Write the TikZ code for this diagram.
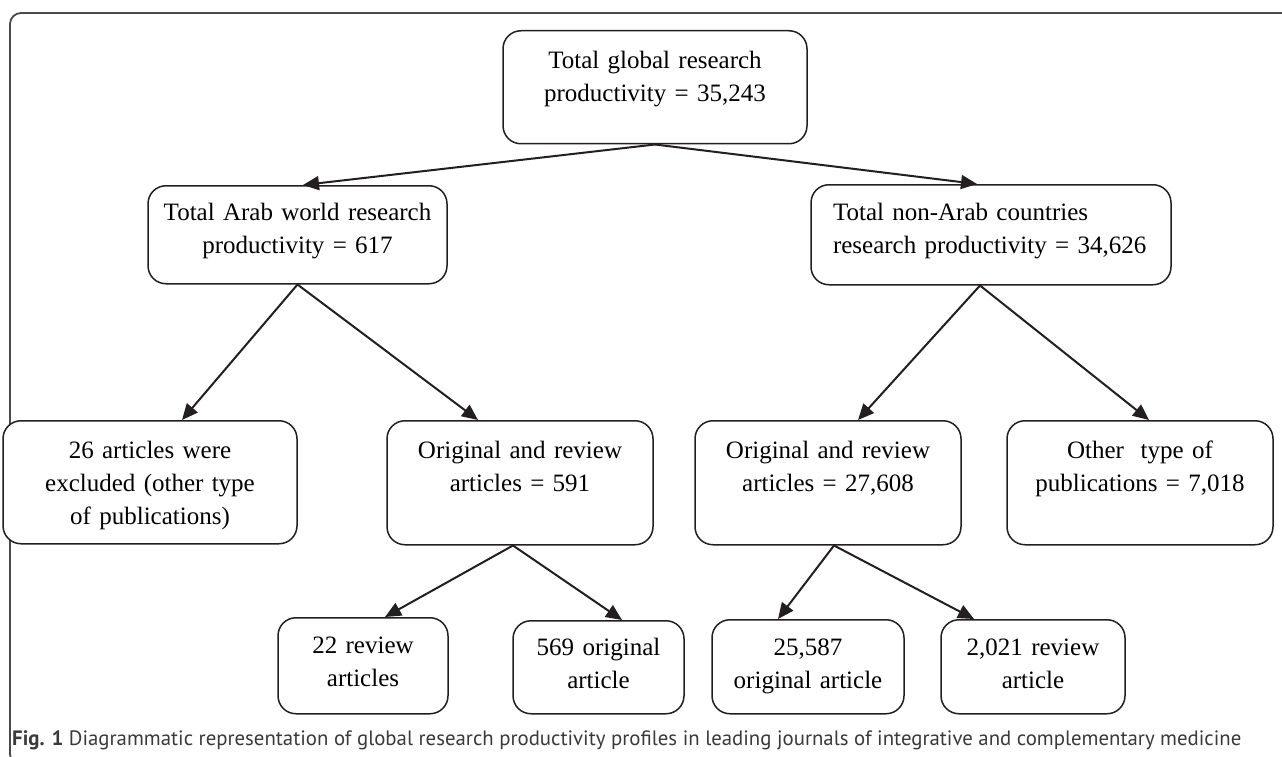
\documentclass[tikz,border=0pt]{standalone}
\usepackage{fontspec}
\setmainfont{Liberation Serif}
\newfontfamily\capfont{PT Sans}
\usepackage{xcolor}
\usepackage{tikz}
\usetikzlibrary{arrows.meta}
\definecolor{boxink}{HTML}{231F20}
\definecolor{frameink}{HTML}{4A4A4A}
\definecolor{capink}{HTML}{3A3A3A}
\tikzset{
  box/.style={draw=boxink, line width=1.5pt, rounded corners=18pt, fill=white,
    inner sep=0pt, align=center, anchor=north, text height=36pt,
    font=\fontsize{25}{33}\selectfont},
  arr/.style={draw=boxink, line width=2pt, -{Triangle[length=16pt,width=14pt]}},
}

\begin{document}
\begin{tikzpicture}[x=1pt,y=-1pt]
    \useasboundingbox (0,0) rectangle (1282,757);
    \clip (0,0) rectangle (1282,757);
    \fill[white] (0,0) rectangle (1282,757);
    \draw[frameink,line width=1.8pt,rounded corners=11pt] (1300,13) -- (10,13) -- (10,765) -- (40,765);

    \node[box,minimum width=304pt,text width=296pt,text height=38pt,text depth=75pt] (top) at (655,30)
      {Total global research\\productivity = 35,243};
    \node[box,minimum width=299pt,text width=290pt,text height=35pt,text depth=63pt] (arab) at (297.5,185)
      {Total Arab world research\\productivity = 617};
    \node[box,minimum width=360pt,text width=316pt,align=left,text depth=64pt] (nonarab) at (991,184)
      {Total non-Arab countries\\research productivity = 34,626};

    \node[box,minimum width=294pt,text width=286pt,text height=38pt,text depth=85pt] (excl) at (150,420)
      {26 articles were\\excluded (other type\\of publications)};
    \node[box,minimum width=266pt,text width=258pt,text height=38pt,text depth=86pt] (arabor) at (520,420)
      {Original and review\\articles = 591};
    \node[box,minimum width=266pt,text width=258pt,text height=38pt,text depth=86pt] (nonor) at (828,420)
      {Original and review\\articles = 27,608};
    \node[box,minimum width=266pt,text width=258pt,text height=38pt,text depth=86pt] (other) at (1140,420)
      {Other\ \ type of\\publications = 7,018};

    \node[box,minimum width=170pt,text width=164pt,text depth=60pt] (arabrev) at (363,617)
      {22 review\\articles};
    \node[box,minimum width=171pt,text width=165pt,text height=35pt,text depth=58pt] (araborig) at (598.5,620)
      {569 original\\article};
    \node[box,minimum width=192pt,text width=186pt,text depth=58pt] (nonorig) at (808,619)
      {25,587\\original article};
    \node[box,minimum width=184pt,text width=178pt,text depth=58pt] (nonrev) at (1033,619)
      {2,021 review\\article};

    \draw[arr] (top.south) -- ([xshift=5.5pt]arab.north);
    \draw[arr] (top.south) -- ([xshift=-14pt]nonarab.north);
    \draw[arr] (arab.south) -- ([xshift=32pt]excl.north);
    \draw[arr] (arab.south) -- ([xshift=-42pt]arabor.north);
    \draw[arr] ([xshift=-11pt]nonarab.south) -- ([xshift=30pt]nonor.north);
    \draw[arr] ([xshift=-11pt]nonarab.south) -- ([xshift=9pt]other.north);
    \draw[arr] ([xshift=-7pt]arabor.south) -- ([xshift=22pt]arabrev.north);
    \draw[arr] ([xshift=-7pt]arabor.south) -- ([xshift=23.5pt]araborig.north);
    \draw[arr] ([xshift=6pt]nonor.south) -- ([xshift=-30pt]nonorig.north);
    \draw[arr] ([xshift=6pt]nonor.south) -- ([xshift=-59pt]nonrev.north);

    \node[anchor=base west,inner sep=0pt,text=capink,font=\capfont\fontsize{20.8}{25}\selectfont] (cap) at (12,745)
      {\textbf{Fig. 1} Diagrammatic representation of global research productivity profiles in leading journals of integrative and complementary medicine};
  \end{tikzpicture}
\end{document}
